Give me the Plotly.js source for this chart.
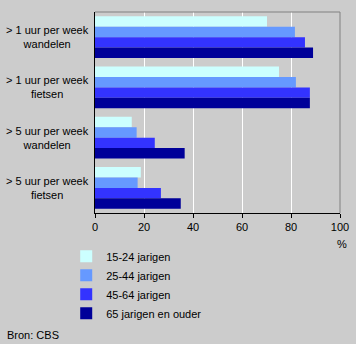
<!DOCTYPE html>
<html><head><meta charset="utf-8">
<script src="https://cdn.plot.ly/plotly-3.0.1.min.js"></script>
<style>html,body{margin:0;padding:0;background:#cccccc;}#chart{width:356px;height:344px;}</style>
</head><body><div id="chart"></div>
<script>
var categories = ["> 1 uur per week<br>wandelen", "> 1 uur per week<br>fietsen", "> 5 uur per week<br>wandelen", "> 5 uur per week<br>fietsen"];
var seriesNames = ["15-24 jarigen", "25-44 jarigen", "45-64 jarigen", "65 jarigen en ouder"];
var v15_24 = [70.2, 75.1, 15.0, 18.7];
var v25_44 = [81.6, 82.0, 17.0, 17.4];
var v45_64 = [85.7, 87.7, 24.4, 26.9];
var v65plus = [89.0, 87.7, 36.6, 35.0];
var xTicks = [0, 20, 40, 60, 80, 100];
var colors = ["#CCFFFF", "#6699FF", "#3333FF", "#000099"];
var values = [v15_24, v25_44, v45_64, v65plus];

var font = {family: "Liberation Sans, Arial, sans-serif", size: 11, color: "#000000"};
var traces = values.map(function(v, i){
  return {type: "bar", orientation: "h", name: seriesNames[i], x: v, y: categories,
    marker: {color: colors[i], line: {width: 0}}, hoverinfo: "skip"};
});
var annotations = categories.map(function(c){
  return {xref: "paper", yref: "y", x: -0.195, y: c, text: c, showarrow: false,
    xanchor: "center", yanchor: "middle", align: "center", font: font};
});
annotations.push({xref: "paper", yref: "paper", x: 1.01, y: -0.154, text: "%", showarrow: false,
  xanchor: "center", yanchor: "middle", font: font});
annotations.push({xref: "paper", yref: "paper", x: -0.367, y: -0.607, text: "Bron: CBS", showarrow: false,
  xanchor: "left", yanchor: "middle", font: font});

var layout = {
  width: 356, height: 344,
  margin: {l: 95, r: 16, t: 12, b: 131, pad: 0, autoexpand: false},
  paper_bgcolor: "#cccccc", plot_bgcolor: "#cccccc",
  font: font,
  barmode: "group", bargap: 0.17, bargroupgap: 0,
  showlegend: true,
  legend: {xref: "container", yref: "container", x: 0.186, y: 0.297, xanchor: "left", yanchor: "top",
    bgcolor: "rgba(0,0,0,0)", font: font, traceorder: "normal", itemwidth: 30, tracegroupgap: 0},
  xaxis: {range: [0, 100], tickvals: xTicks, ticktext: xTicks.map(String),
    showgrid: true, gridcolor: "#ffffff", gridwidth: 1, zeroline: false,
    showline: true, linecolor: "#000000", linewidth: 1, ticks: "outside", ticklen: 4, tickcolor: "#000000",
    mirror: false, fixedrange: true, tickfont: font, automargin: false},
  yaxis: {autorange: "reversed", showticklabels: false, showgrid: false, zeroline: false,
    showline: true, linecolor: "#000000", linewidth: 1, ticks: "", fixedrange: true, automargin: false},
  shapes: [
    {type: "line", xref: "paper", yref: "paper", x0: 0, x1: 1, y0: 1, y1: 1, line: {color: "#808080", width: 1}},
    {type: "line", xref: "paper", yref: "paper", x0: 1, x1: 1, y0: 0, y1: 1, line: {color: "#808080", width: 1}}
  ],
  annotations: annotations
};
Plotly.newPlot("chart", traces, layout, {staticPlot: true, displayModeBar: false});
</script></body></html>
